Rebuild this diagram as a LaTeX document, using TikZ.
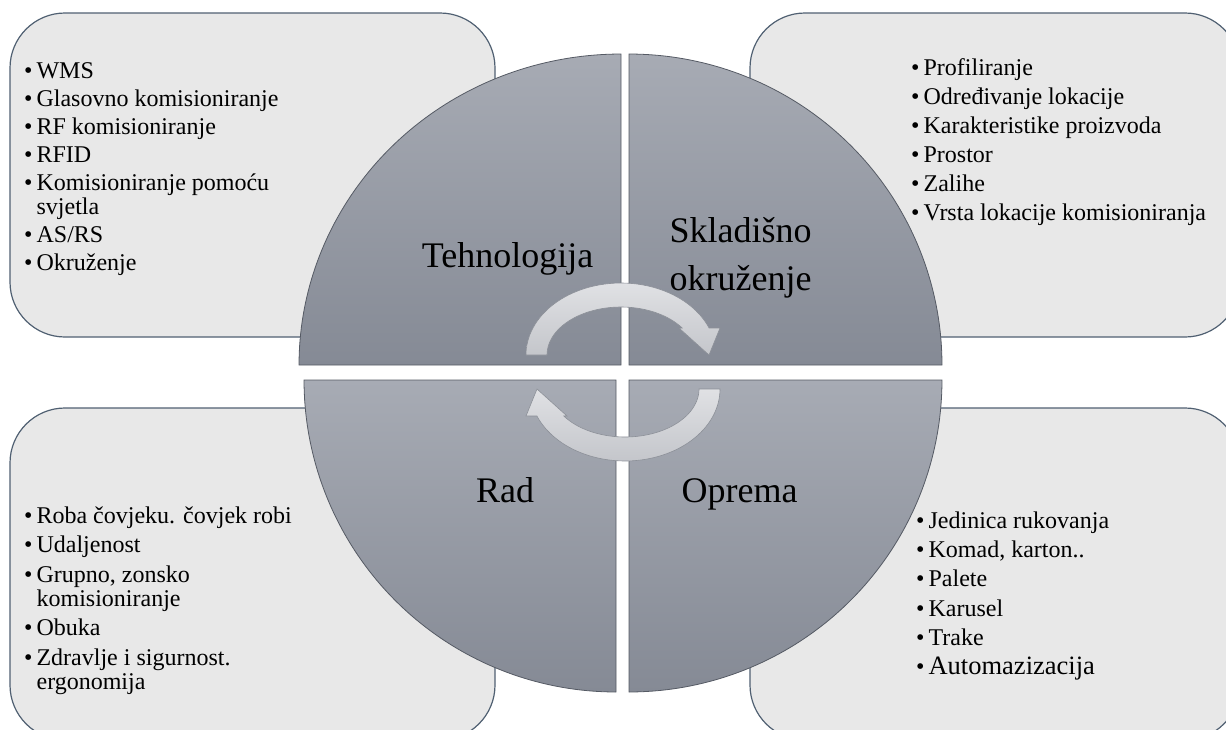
\documentclass[tikz,border=0pt]{standalone}
\usepackage{fontspec}
\setmainfont{Liberation Serif}
\definecolor{boxfill}{RGB}{232,232,232}
\definecolor{boxline}{RGB}{80,96,114}
\definecolor{quadtop}{RGB}{167,171,180}
\definecolor{quadbot}{RGB}{133,138,149}
\definecolor{quadline}{RGB}{85,90,100}
\definecolor{arrtop}{RGB}{224,225,228}
\definecolor{arrbot}{RGB}{196,198,203}
\definecolor{arrline}{RGB}{140,144,152}
\begin{document}
\begin{tikzpicture}[x=1pt,y=-1pt,
  box/.style={draw=boxline, fill=boxfill, line width=1.2pt, rounded corners=55pt},
  quad/.style={draw=quadline, line width=0.8pt, top color=quadtop, bottom color=quadbot},
  arr/.style={draw=arrline, line width=0.6pt, top color=arrtop, bottom color=arrbot},
  title/.style={font=\fontsize{36}{48}\selectfont, inner sep=0pt, anchor=base},
  list/.style={font=\fontsize{24}{24}\selectfont, inner sep=0pt, anchor=base west}]
\useasboundingbox (0,0) rectangle (1226,729);
\clip (0,0) rectangle (1226,729);
% text boxes
\draw[box] (10,13) rectangle (495,337);
\draw[box] (750,13) rectangle (1240,337);
\draw[box] (10,408) rectangle (495,740);
\draw[box] (750,408) rectangle (1240,740);
% quarter circles
\path[quad] (621,365) -- plot[domain=180:270,samples=80] ({621+322*cos(\x)},{365+311*sin(\x)}) -- cycle;
\path[quad] (629,365) -- plot[domain=270:360,samples=80] ({629+313*cos(\x)},{365+311*sin(\x)}) -- cycle;
\path[quad] (616,380) -- plot[domain=90:180,samples=80] ({616+312*cos(\x)},{380+312*sin(\x)}) -- cycle;
\path[quad] (629,380) -- plot[domain=0:90,samples=80] ({629+313*cos(\x)},{380+312*sin(\x)}) -- cycle;
% titles
\node[title] (teh) at (507.5,267) {Tehnologija};
\node[title] (skl) at (740.5,242) {\begin{tabular}[t]{@{}c@{}}Skladišno\\okruženje\end{tabular}};
\node[title] (rad) at (505,502) {Rad};
\node[title] (opr) at (739.5,502) {Oprema};
% arrows
\path[arr] plot[domain=180:338,samples=60] ({621+95*cos(\x)},{355+72*sin(\x)})
  -- (720,328) -- (709,355) -- (679,328)
  -- plot[domain=325.8:180,samples=60] ({621+74*cos(\x)},{355+48*sin(\x)}) -- cycle;
\begin{scope}[rotate around={180:(623,372)}]
\path[arr] plot[domain=180:338,samples=60] ({621+95*cos(\x)},{355+72*sin(\x)})
  -- (720,328) -- (709,355) -- (679,328)
  -- plot[domain=325.8:180,samples=60] ({621+74*cos(\x)},{355+48*sin(\x)}) -- cycle;
\end{scope}
% lists
\node[list] (ltl) at (24,78) {\begin{tabular}[t]{@{}l@{\hspace{4pt}}l@{}}
\textbullet & WMS\\[4pt]
\textbullet & Glasovno komisioniranje\\[4pt]
\textbullet & RF komisioniranje\\[4pt]
\textbullet & RFID\\[4pt]
\textbullet & Komisioniranje pomoću\\
 & svjetla\\[4pt]
\textbullet & AS/RS\\[4pt]
\textbullet & Okruženje
\end{tabular}};
\node[list] (ltr) at (911,75) {\begin{tabular}[t]{@{}l@{\hspace{4pt}}l@{}}
\textbullet & Profiliranje\\[5pt]
\textbullet & Određivanje lokacije\\[5pt]
\textbullet & Karakteristike proizvoda\\[5pt]
\textbullet & Prostor\\[5pt]
\textbullet & Zalihe\\[5pt]
\textbullet & Vrsta lokacije komisioniranja
\end{tabular}};
\node[list] (lbl) at (24,523) {\begin{tabular}[t]{@{}l@{\hspace{4pt}}l@{}}
\textbullet & Roba čovjeku. čovjek robi\\[5.5pt]
\textbullet & Udaljenost\\[5.5pt]
\textbullet & Grupno, zonsko\\
 & komisioniranje\\[5.5pt]
\textbullet & Obuka\\[5.5pt]
\textbullet & Zdravlje i sigurnost.\\
 & ergonomija
\end{tabular}};
\node[list] (lbr) at (916,528) {\begin{tabular}[t]{@{}l@{\hspace{4pt}}l@{}}
\textbullet & Jedinica rukovanja\\[5.4pt]
\textbullet & Komad, karton..\\[5.4pt]
\textbullet & Palete\\[5.4pt]
\textbullet & Karusel\\[5.4pt]
\textbullet & Trake\\[4.5pt]
\textbullet & {\fontsize{26.5}{26.5}\selectfont Automazizacija}
\end{tabular}};
\end{tikzpicture}
\end{document}
